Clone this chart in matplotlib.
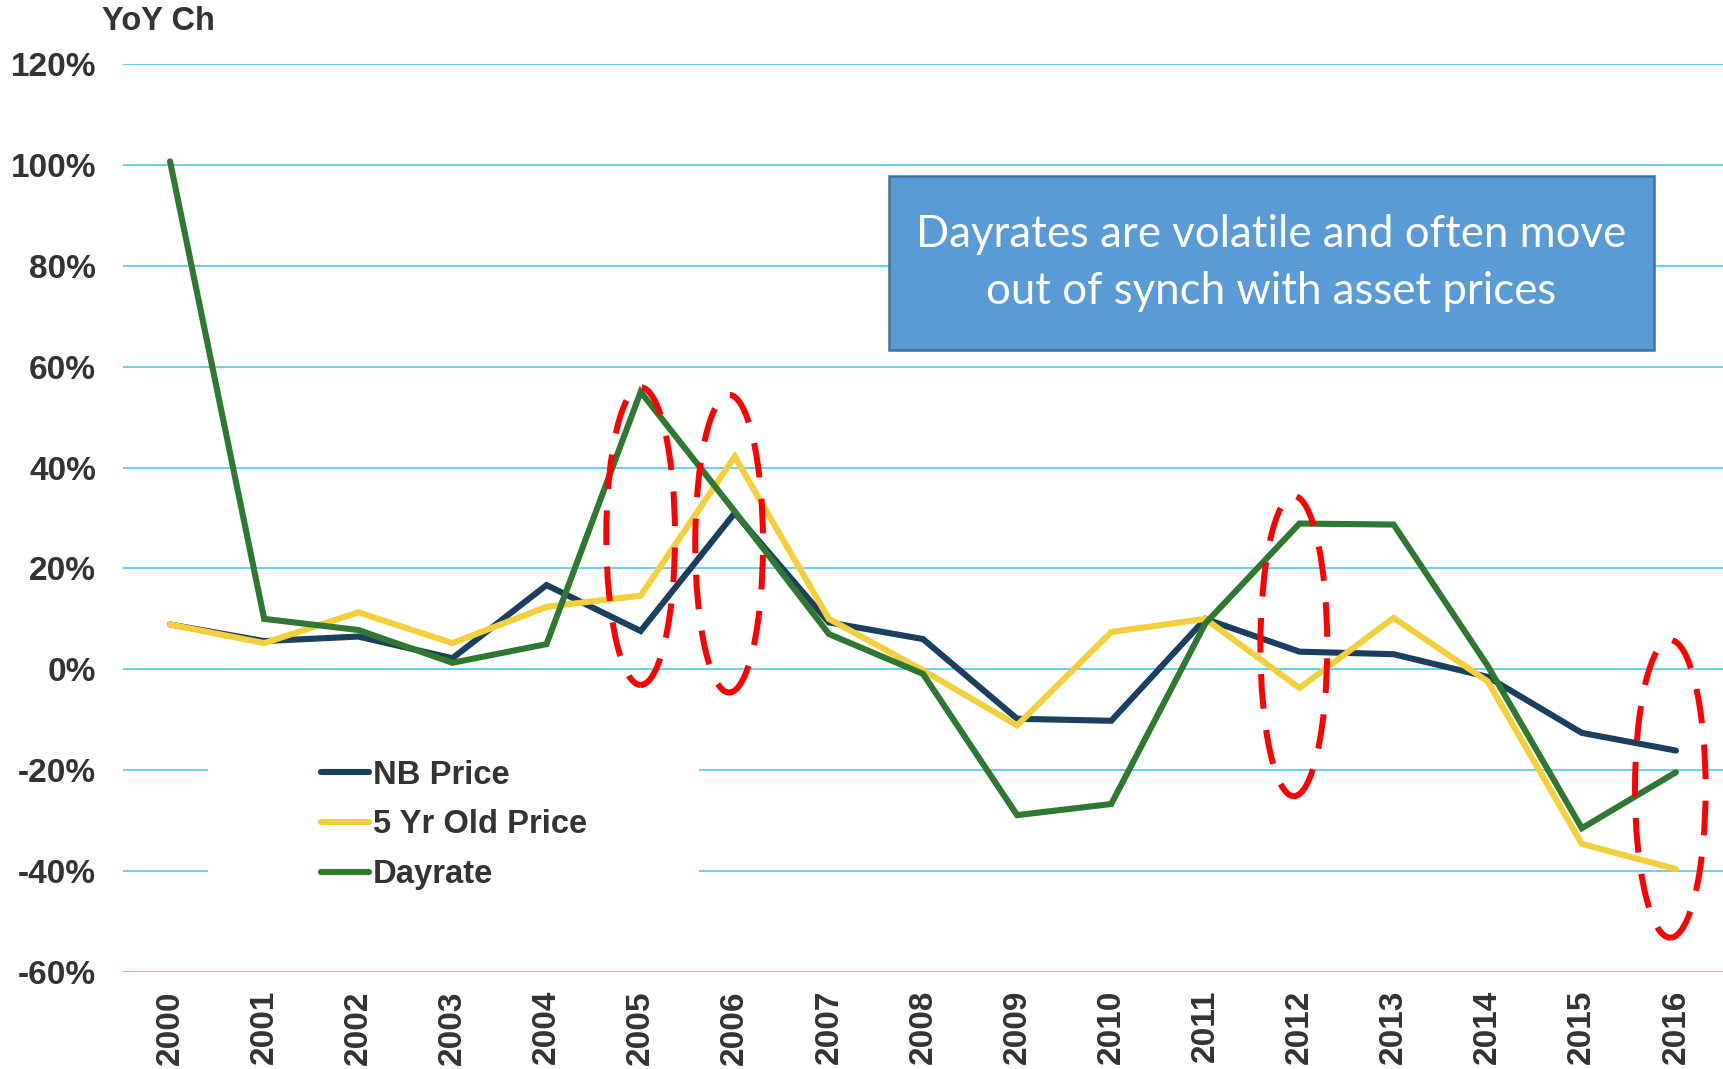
import matplotlib
matplotlib.use("Agg")
import matplotlib.pyplot as plt
from matplotlib.patches import Ellipse, Rectangle

# Data, YoY change in percent
years = [str(y) for y in range(2000, 2017)]
nb_price = [8.9, 5.6, 6.5, 2.2, 16.7, 7.6, 31.0, 9.3, 6.0, -9.8, -10.2, 10.0, 3.5, 3.0, -1.5, -12.6, -16.1]
five_yr_price = [8.9, 5.2, 11.3, 5.2, 12.4, 14.6, 42.2, 10.0, -0.2, -11.1, 7.4, 10.0, -3.7, 10.2, -2.4, -34.6, -39.6]
dayrate = [100.7, 10.0, 7.8, 1.3, 5.0, 55.0, 31.3, 7.0, -0.9, -28.9, -26.7, 9.1, 28.9, 28.7, 0.7, -31.5, -20.4]
yticks = [-60, -40, -20, 0, 20, 40, 60, 80, 100, 120]

# highlight ellipses: (year index, centre value, width in years, height in %)
highlights = [(5.0, 26.4, 0.73, 59.0), (5.94, 24.9, 0.72, 59.0),
              (11.94, 4.6, 0.71, 59.5), (15.94, -23.7, 0.75, 59.0)]

note = "Dayrates are volatile and often move\nout of synch with asset prices"

TXT = "#333333"
FONT = "Liberation Sans"

fig = plt.figure(figsize=(17.23, 10.69), dpi=100)
ax = fig.add_axes([123 / 1723, 1 - 972 / 1069, 1600 / 1723, 908 / 1069])

x = list(range(len(years)))
lw = 4.4
ax.plot(x, nb_price, color="#1B3F5E", lw=lw, solid_capstyle="round", solid_joinstyle="miter", label="NB Price", zorder=2)
ax.plot(x, five_yr_price, color="#F2CF3B", lw=lw, solid_capstyle="round", solid_joinstyle="miter", label="5 Yr Old Price", zorder=2.1)
ax.plot(x, dayrate, color="#2E7832", lw=lw, solid_capstyle="round", solid_joinstyle="miter", label="Dayrate", zorder=2.2)

for cx, cy, w, h in highlights:
    ax.add_patch(Ellipse((cx, cy), w, h, fill=False, edgecolor="#FF0000", lw=4.3,
                         linestyle=(0, (5.8, 3.6)), zorder=4))

ax.set_xlim(-0.5, len(years) - 0.5)
ax.set_ylim(-60, 120)
ax.set_yticks(yticks)
ax.set_yticklabels(["%d%%" % v for v in yticks])
ax.set_xticks(x)
ax.set_xticklabels(years, rotation=90)
ax.tick_params(length=0)
ax.tick_params(axis="y", pad=19.5)
ax.tick_params(axis="x", pad=13)
for lab in ax.get_xticklabels() + ax.get_yticklabels():
    lab.set_fontfamily(FONT)
    lab.set_fontweight("bold")
    lab.set_fontsize(24)
    lab.set_color(TXT)

ax.set_axisbelow(True)
ax.yaxis.grid(True, color="#5CCEF0", lw=1.3)
for s in ax.spines.values():
    s.set_visible(False)

# white area behind the legend hides the gridlines
ax.add_patch(Rectangle((0.053, 0.095), 0.307, 0.165, transform=ax.transAxes,
                       facecolor="white", edgecolor="none", zorder=1))

leg = ax.legend(loc="center left", bbox_to_anchor=(0.124, 0.162), frameon=False,
                handlelength=1.46, handletextpad=0.12, labelspacing=0.57,
                borderaxespad=0, borderpad=0,
                prop={"family": FONT, "weight": "bold", "size": 23.6})
for t in leg.get_texts():
    t.set_color(TXT)

fig.text(102 / 1723, 1 - 22 / 1069, "YoY Ch", ha="left", va="center",
         fontfamily=FONT, fontweight="bold", fontsize=23.5, color=TXT)

# note box
fig.patches.append(Rectangle((889 / 1723, 1 - 350 / 1069), 765 / 1723, 174 / 1069,
                             transform=fig.transFigure, facecolor="#5B9BD5",
                             edgecolor="#41719C", lw=1.8, zorder=5))
fig.text(1271 / 1723, 1 - 263 / 1069, note, ha="center", va="center",
         fontfamily="Lato", fontsize=31.5, color="white", linespacing=1.5, zorder=6)

fig.savefig("out.png", dpi=100)
